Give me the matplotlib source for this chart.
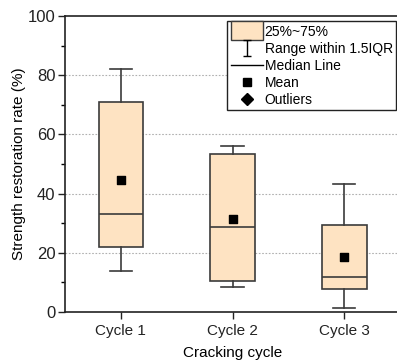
import matplotlib
matplotlib.use("Agg")
import matplotlib.pyplot as plt
from matplotlib.patches import Patch, Rectangle
from matplotlib.lines import Line2D
from matplotlib.path import Path
from matplotlib.legend_handler import HandlerPatch
import numpy as np

plt.rcParams['font.family'] = ['Liberation Sans', 'DejaVu Sans']

categories = ["Cycle 1", "Cycle 2", "Cycle 3"]
whisker_low = [14.0, 8.4, 1.3]
q1 = [22.0, 10.4, 7.8]
median = [33.2, 28.8, 11.9]
q3 = [70.8, 53.5, 29.5]
whisker_high = [82.2, 56.1, 43.2]
means = [44.5, 31.5, 18.7]
y_ticks = [0, 20, 40, 60, 80, 100]

face = '#FEE3C2'
edge = '#3b3b3b'

fig = plt.figure(figsize=(3.97, 3.64), dpi=100)
ax = fig.add_axes([65/397, 1-312/364, 335/397, 296/364])

stats = []
for i, c in enumerate(categories):
    stats.append(dict(label=c, whislo=whisker_low[i], q1=q1[i], med=median[i],
                      q3=q3[i], whishi=whisker_high[i], fliers=[]))
pos = np.arange(1, len(categories) + 1)
ax.bxp(stats, positions=pos, widths=0.4, patch_artist=True, showfliers=False,
       boxprops=dict(facecolor=face, edgecolor=edge, linewidth=1.2),
       medianprops=dict(color=edge, linewidth=1.2),
       whiskerprops=dict(color=edge, linewidth=1.2),
       capprops=dict(color=edge, linewidth=1.2), capwidths=0.2, zorder=3)
ax.scatter(pos, means, marker='s', s=32, color='black', zorder=4)

ax.set_xlim(0.5, 3.5)
ax.set_ylim(0, 100)
ax.set_yticks(y_ticks)
ax.set_yticks(np.arange(10, 100, 20), minor=True)
ax.set_xticks(pos)
ax.set_xticklabels(categories)
for yv in y_ticks[1:-1]:
    ax.axhline(yv, color='#b0b0b0', linestyle=(0, (1.5, 1.5)), linewidth=0.8, zorder=1)

ax.spines['right'].set_visible(False)
for s in ['left', 'bottom', 'top']:
    ax.spines[s].set_linewidth(1.2)
    ax.spines[s].set_color('#222222')
ax.tick_params(axis='both', which='major', length=5, width=1, direction='out', colors='#222222')
ax.tick_params(axis='x', labelsize=11)
ax.tick_params(axis='y', labelsize=12, pad=2)
ax.tick_params(axis='y', which='minor', length=3, width=1, direction='out')
ax.set_ylabel("Strength restoration rate (%)", fontsize=11, labelpad=1)
ax.set_xlabel("Cracking cycle", fontsize=11, labelpad=6)


def make_rect(legend, orig_handle, xdescent, ydescent, width, height, fontsize):
    return Rectangle((-xdescent, -ydescent - height * 0.45), width, height * 1.9)


ibeam = Path([(-0.5, 1), (0.5, 1), (0, 1), (0, -1), (-0.5, -1), (0.5, -1)],
             [Path.MOVETO, Path.LINETO, Path.MOVETO, Path.LINETO, Path.MOVETO, Path.LINETO])
rect_handle = Patch(facecolor=face, edgecolor=edge, linewidth=1.0)
handles = [
    rect_handle,
    Line2D([], [], marker=ibeam, linestyle='none', color='black', markersize=11, markeredgewidth=1),
    Line2D([], [], color='black', linewidth=1),
    Line2D([], [], marker='s', linestyle='none', color='black', markersize=6),
    Line2D([], [], marker='D', linestyle='none', color='black', markersize=6),
]
labels = ["25%~75%", "Range within 1.5IQR", "Median Line", "Mean", "Outliers"]
leg = ax.legend(handles, labels, loc='upper left', bbox_to_anchor=(0.484, 0.983),
                borderaxespad=0, fontsize=10, frameon=True, fancybox=False,
                edgecolor='#222222', framealpha=1, handlelength=2.3,
                handletextpad=0.15, labelspacing=0.22, borderpad=0.25,
                handler_map={rect_handle: HandlerPatch(patch_func=make_rect)})
leg.get_frame().set_linewidth(1.0)
leg.set_zorder(5)

fig.savefig("out.png", dpi=100)
